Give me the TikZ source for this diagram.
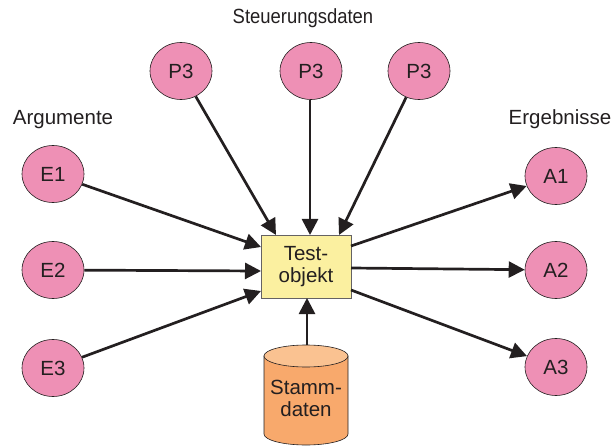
\documentclass[tikz,border=0pt]{standalone}
\usepackage{fontspec}
\setmainfont{Liberation Sans}
\usetikzlibrary{shapes.geometric,arrows.meta,calc}
\definecolor{bubble}{HTML}{EE90B5}
\definecolor{boxfill}{HTML}{FBF0A0}
\definecolor{drumbody}{HTML}{F8A96C}
\definecolor{drumtop}{HTML}{FAC291}
\definecolor{ink}{HTML}{231F20}
\begin{document}
\begin{tikzpicture}[x=1pt,y=-1pt,
  font=\fontsize{20.5}{22}\selectfont, text=ink,
  bubblenode/.style={ellipse,draw=ink,line width=0.6pt,fill=bubble,
    minimum width=62pt,minimum height=57pt,inner sep=0pt},
  label/.style={inner sep=0pt,anchor=base},
  flow/.style={draw=ink,line width=2.7pt,
    -{Triangle[length=16pt,width=16pt]}}]
\useasboundingbox (0,0) rectangle (615,446);

% headings
\node[label] (hs) at (303,24) {\scalebox{0.9}[1]{Steuerungsdaten}};
\node[label] (ha) at (63,125) {Argumente};
\node[label] (he) at (560,125) {Ergebnisse};

% inputs, control data and results
\node[bubblenode] (P1) at (181,71) {P3};
\node[bubblenode] (P2) at (311,71) {P3};
\node[bubblenode] (P3) at (419,71) {P3};
\node[bubblenode] (E1) at (53,174) {E1};
\node[bubblenode] (E2) at (53,270) {E2};
\node[bubblenode] (E3) at (53,368) {E3};
\node[bubblenode] (A1) at (556,176) {A1};
\node[bubblenode] (A2) at (556,270) {A2};
\node[bubblenode] (A3) at (556,367) {A3};

% test object
\node[draw=ink!70,line width=0.8pt,fill=boxfill,minimum width=90pt,
  minimum height=63pt,inner sep=0pt,align=center] (T) at (306,266.5)
  {Test-\\objekt};

% master data drum
\fill[drumbody,draw=ink,line width=0.6pt]
  (264,356) -- (264,434) arc[start angle=180,end angle=360,
  x radius=42,y radius=-11] -- (348,356) -- cycle;
\draw[fill=drumtop,draw=ink,line width=0.6pt] (306,356) ellipse[x radius=42,y radius=11];
\coordinate (Dtop) at (307,345);
\node[inner sep=0pt,align=center] (D) at (306,398) {Stamm-\\daten};

% connector end points on the test object
\coordinate (Tl1) at (261,247);
\coordinate (Tl2) at (261,271);
\coordinate (Tl3) at (261,291);
\coordinate (Tt1) at (276,235);
\coordinate (Tt2) at (310,235);
\coordinate (Tt3) at (339,235);
\coordinate (Tr1) at (351,246);
\coordinate (Tr2) at (351,268);
\coordinate (Tr3) at (351,290);
\coordinate (Tb) at (307,298);

\draw[flow] (E1) -- (Tl1);
\draw[flow] (E2) -- (Tl2);
\draw[flow] (E3) -- (Tl3);
\draw[flow] (P1) -- (Tt1);
\draw[flow] (P2.south -| Tt2) -- (Tt2);
\draw[flow] (P3) -- (Tt3);
\draw[flow] (Tr1) -- (A1);
\draw[flow] (Tr2) -- (A2);
\draw[flow] (Tr3) -- (A3);
\draw[flow] (Dtop) -- (Tb);
\end{tikzpicture}
\end{document}
